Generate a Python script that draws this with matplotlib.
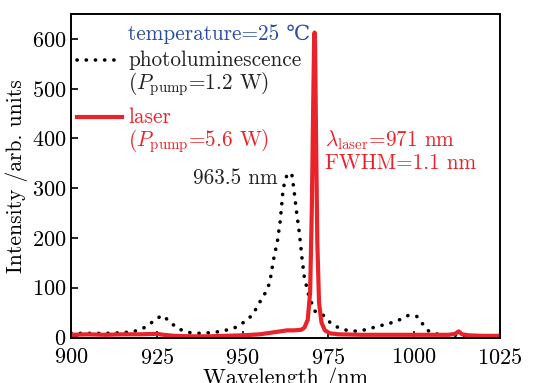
import numpy as np
import matplotlib
matplotlib.use("Agg")
import matplotlib.pyplot as plt

plt.rcParams['font.family'] = ['cmr10', 'DejaVu Serif']
plt.rcParams['mathtext.fontset'] = 'cm'
plt.rcParams['axes.formatter.use_mathtext'] = True

# photoluminescence spectrum (Ppump = 1.2 W)
pl_wl = [900, 903, 906, 910, 914, 918, 921, 923, 925, 926.7, 928.7, 931, 934, 937, 940,
         944, 948, 951, 953, 954.7, 956.6, 957.9, 959, 960.2, 961, 961.8, 962.4, 963.1,
         963.8, 964.4, 965, 965.8, 966.6, 967.3, 968, 969.2, 970.2, 971.2, 973.6, 975.5,
         977.5, 980.4, 983.8, 986.2, 990, 993.8, 996.4, 998.3, 1000.8, 1002.5, 1004.2,
         1006, 1010, 1015, 1020, 1025]
pl_int = [8, 8, 8, 8, 9, 11, 18, 27, 38, 44, 32, 18, 10, 8, 9,
          12, 20, 33, 46, 67, 89, 109, 155, 195, 235, 296, 316, 329,
          331, 326, 296, 249, 208, 161, 121, 87, 68, 52, 44, 30,
          21, 14, 12, 16, 23, 30, 37, 44, 42, 27, 13,
          7, 5, 3, 2, 2]

# laser spectrum (Ppump = 5.6 W)
las_wl = [900, 905, 910, 915, 920, 925, 927, 930, 935, 940, 945, 950, 955, 958, 961,
          963, 965, 967, 968, 969, 969.7, 970.2, 970.6, 970.85, 971, 971.15, 971.4, 971.8,
          972.3, 973, 974, 975.5, 978, 985, 995, 1005, 1010, 1012, 1013, 1014, 1016, 1020, 1025]
las_int = [5, 6, 5, 6, 6, 7, 5, 3, 2, 2, 3, 4, 6, 9, 12,
           14, 14, 15, 19, 35, 90, 260, 470, 590, 613, 590, 420, 190,
           70, 30, 14, 8, 6, 5, 5, 5, 5, 7, 12, 6, 4, 3, 3]

red = '#e8242a'
blue = '#2b4ea3'

fig = plt.figure(figsize=(5.34, 3.83), dpi=100)
ax = fig.add_axes([0.133, 0.118, 0.803, 0.845])

ax.plot(pl_wl, pl_int, color='black', lw=2.6, linestyle=(0, (0.05, 2.5)),
        dash_capstyle='round')
ax.plot(las_wl, las_int, color=red, lw=3.0)

ax.set_xlim(900, 1025)
ax.set_ylim(-1, 650)
ax.set_xticks([900, 925, 950, 975, 1000, 1025])
ax.set_yticks([0, 100, 200, 300, 400, 500, 600])
ax.tick_params(direction='in', labelsize=16, length=5, width=1.2)
ax.tick_params(axis='x', pad=7)
for s in ax.spines.values():
    s.set_linewidth(1.4)

ax.set_xlabel('Wavelength /nm', fontsize=16, labelpad=0)
ax.set_ylabel('Intensity /arb. units', fontsize=15.5, labelpad=3)

# hand-made legend
tr = ax.transAxes
ax.plot([0.015, 0.12], [0.858, 0.858], transform=tr, color='black', lw=2.6,
        linestyle=(0, (0.05, 2.5)), dash_capstyle='round')
ax.plot([0.015, 0.12], [0.683, 0.683], transform=tr, color=red, lw=3.0)
fs = 15.3
ax.text(0.133, 0.937, 'temperature=25 \u2103', transform=tr, color=blue, fontsize=fs, va='center')
ax.text(0.133, 0.858, 'photoluminescence', transform=tr, color='#222222', fontsize=fs, va='center')
ax.text(0.133, 0.783, r'($P_{\rm pump}$=1.2 W)', transform=tr, color='#222222', fontsize=fs, va='center')
ax.text(0.133, 0.683, 'laser', transform=tr, color=red, fontsize=fs, va='center')
ax.text(0.133, 0.607, r'($P_{\rm pump}$=5.6 W)', transform=tr, color=red, fontsize=fs, va='center')

ax.text(960.3, 320, '963.5 nm', color='#222222', fontsize=fs, ha='right', va='center')
ax.text(974.0, 396, r'$\lambda_{\rm laser}$=971 nm', color=red, fontsize=fs, va='center')
ax.text(974.0, 350, 'FWHM=1.1 nm', color=red, fontsize=fs, va='center')

fig.savefig('out.png', dpi=100)
